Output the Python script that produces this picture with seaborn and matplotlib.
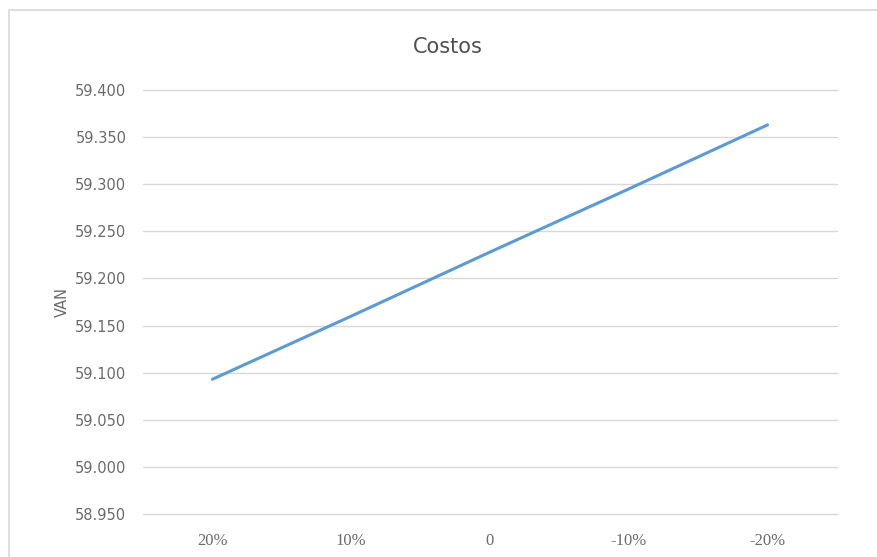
import matplotlib
matplotlib.use("Agg")
import matplotlib.pyplot as plt
import seaborn as sns
import pandas as pd
from matplotlib.patches import Rectangle

# Sensitivity of VAN to cost changes
variations = ['20%', '10%', '0', '-10%', '-20%']
van_values = [59.093, 59.160, 59.228, 59.295, 59.363]
y_ticks = [58.95, 59.00, 59.05, 59.10, 59.15, 59.20, 59.25, 59.30, 59.35, 59.40]


def fmt_tick(v):
    return f"{v:.3f}"


def draw_chart():
    sns.set_style("white")
    plt.rcParams['font.family'] = ['DejaVu Sans']

    df = pd.DataFrame({'variation': variations, 'van': van_values})

    fig = plt.figure(figsize=(8.78, 5.57), dpi=100)
    ax = fig.add_axes([143 / 878, 1 - 514 / 557, (837 - 143) / 878, (514 - 90) / 557])

    # light chart-area border like the spreadsheet export
    fig.patches.append(Rectangle((9 / 878, -0.02), 1.0, 1 - 10 / 557 + 0.02,
                                 transform=fig.transFigure, fill=False,
                                 edgecolor='#D9D9D9', linewidth=1.2))

    sns.lineplot(data=df, x='variation', y='van', ax=ax, color='#5B9BD5',
                 linewidth=2.2, sort=False)

    ax.set_xlim(-0.5, len(variations) - 0.5)
    ax.set_ylim(y_ticks[0], y_ticks[-1])
    ax.set_yticks(y_ticks)
    ax.set_yticklabels([fmt_tick(v) for v in y_ticks], fontsize=10.5, color='#6b6b6b')
    ax.set_xticks(range(len(variations)))
    ax.set_xticklabels(variations, fontsize=12, color='#6b6b6b',
                       family=['Liberation Serif'])
    ax.tick_params(axis='y', length=0, pad=12)
    ax.tick_params(axis='x', length=0, pad=14)

    ax.grid(axis='y', color='#D9D9D9', linewidth=1)
    ax.set_axisbelow(True)
    for line in ax.yaxis.get_gridlines():
        line.set_clip_on(False)
    for s in ax.spines.values():
        s.set_visible(False)

    ax.set_xlabel('')
    ax.set_ylabel('VAN', fontsize=10.5, color='#6b6b6b', labelpad=4)
    fig.text(448 / 878, 1 - 47 / 557, 'Costos', ha='center', va='center',
             fontsize=15, color='#505050')

    fig.savefig('out.png', dpi=100)
    return fig


if __name__ == "__main__":
    draw_chart()
